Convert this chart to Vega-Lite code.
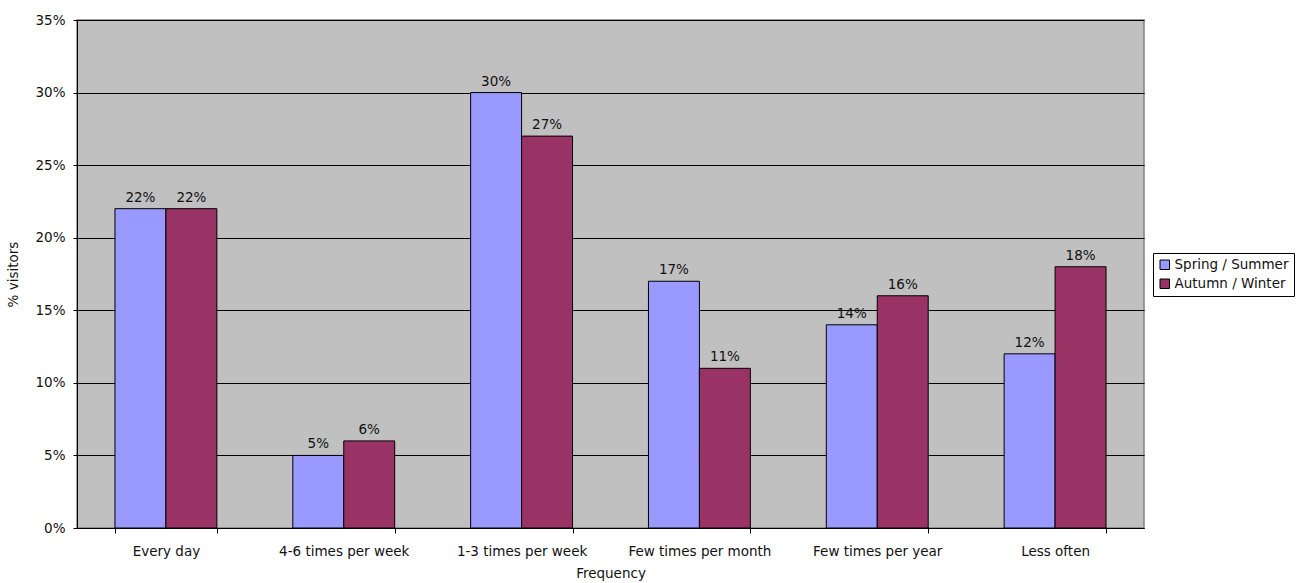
{
  "$schema": "https://vega.github.io/schema/vega-lite/v6.json",
  "autosize": {"type": "none"},
  "width": 1067,
  "height": 508,
  "padding": {"left": 77, "top": 20, "right": 154, "bottom": 55},
  "background": "white",
  "config": {
    "font": "DejaVu Sans",
    "view": {"fill": "#C0C0C0", "stroke": "#808080", "strokeWidth": 1.5},
    "axis": {
      "labelFont": "DejaVu Sans",
      "titleFont": "DejaVu Sans",
      "labelFontSize": 13.5,
      "titleFontSize": 13.5,
      "labelColor": "#111111",
      "titleColor": "#111111",
      "titleFontWeight": "normal",
      "domainColor": "#000000",
      "tickColor": "#000000"
    }
  },
  "data": {
    "values": [
      {"frequency": "Every day", "season": "Spring / Summer", "share": 0.22},
      {"frequency": "Every day", "season": "Autumn / Winter", "share": 0.22},
      {"frequency": "4-6 times per week", "season": "Spring / Summer", "share": 0.05},
      {"frequency": "4-6 times per week", "season": "Autumn / Winter", "share": 0.06},
      {"frequency": "1-3 times per week", "season": "Spring / Summer", "share": 0.30},
      {"frequency": "1-3 times per week", "season": "Autumn / Winter", "share": 0.27},
      {"frequency": "Few times per month", "season": "Spring / Summer", "share": 0.17},
      {"frequency": "Few times per month", "season": "Autumn / Winter", "share": 0.11},
      {"frequency": "Few times per year", "season": "Spring / Summer", "share": 0.14},
      {"frequency": "Few times per year", "season": "Autumn / Winter", "share": 0.16},
      {"frequency": "Less often", "season": "Spring / Summer", "share": 0.12},
      {"frequency": "Less often", "season": "Autumn / Winter", "share": 0.18}
    ]
  },
  "encoding": {
    "x": {
      "field": "frequency",
      "type": "nominal",
      "sort": ["Every day", "4-6 times per week", "1-3 times per week", "Few times per month", "Few times per year", "Less often"],
      "scale": {"paddingInner": 0.427, "paddingOuter": 0.2135},
      "axis": {
        "title": "Frequency",
        "labelAngle": 0,
        "tickBand": "extent",
        "tickSize": 5,
        "labelPadding": 11,
        "titlePadding": 9,
        "domainWidth": 1,
        "grid": false
      }
    },
    "xOffset": {
      "field": "season",
      "type": "nominal",
      "sort": ["Spring / Summer", "Autumn / Winter"],
      "scale": {"paddingInner": 0, "paddingOuter": 0}
    },
    "y": {
      "field": "share",
      "type": "quantitative",
      "scale": {"domain": [0, 0.35], "nice": false},
      "axis": {
        "title": "% visitors",
        "format": ".0%",
        "values": [0, 0.05, 0.1, 0.15, 0.2, 0.25, 0.3, 0.35],
        "grid": true,
        "gridColor": "#000000",
        "gridWidth": 1,
        "tickSize": 4,
        "labelPadding": 8,
        "titlePadding": 14
      }
    }
  },
  "layer": [
    {
      "mark": {"type": "bar", "stroke": "#000000", "strokeWidth": 1},
      "encoding": {
        "color": {
          "field": "season",
          "type": "nominal",
          "sort": ["Spring / Summer", "Autumn / Winter"],
          "scale": {"domain": ["Spring / Summer", "Autumn / Winter"], "range": ["#9999FF", "#993366"]},
          "legend": {
            "title": null,
            "orient": "none",
            "legendX": 1076,
            "legendY": 233,
            "symbolType": "square",
            "symbolSize": 90,
            "symbolStrokeColor": "#000000",
            "symbolStrokeWidth": 1,
            "labelFontSize": 13.5,
            "labelFont": "DejaVu Sans",
            "labelColor": "#111111",
            "labelOffset": 3,
            "rowPadding": 4,
            "padding": 5,
            "strokeColor": "#000000",
            "fillColor": "#FFFFFF"
          }
        }
      }
    },
    {
      "mark": {"type": "text", "baseline": "bottom", "dy": -4, "fontSize": 13.5, "font": "DejaVu Sans", "color": "#111111"},
      "encoding": {
        "text": {"field": "share", "type": "quantitative", "format": ".0%"}
      }
    }
  ]
}
